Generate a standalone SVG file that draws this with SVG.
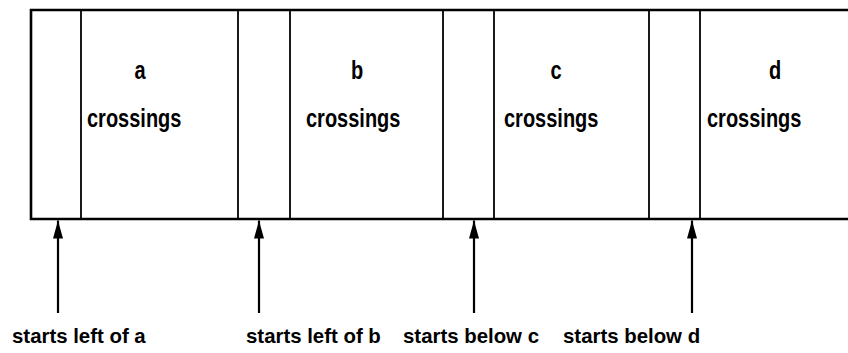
<svg xmlns="http://www.w3.org/2000/svg" width="848" height="353" viewBox="0 0 848 353">
  <style>
    .frame { fill: none; stroke: #000; stroke-width: 2.6; }
    .divider { stroke: #000; stroke-width: 1.8; }
    .lbl { font-family: "Liberation Sans", Arial, Helvetica, sans-serif; font-weight: bold; font-size: 20.4px; fill: #000; }
    .tall { font-size: 20px; }
    .mid { text-anchor: middle; }
    .shaft { stroke: #000; stroke-width: 2.2; fill: none; }
  </style>
  <defs>
    <!-- arrowhead drawn along +x, tip at the line end -->
    <marker id="head" viewBox="0 0 18 10" refX="18" refY="5" markerWidth="18" markerHeight="10" markerUnits="userSpaceOnUse" orient="auto">
      <path d="M18 5 L0 0 L0 10 Z" fill="#000"/>
    </marker>
  </defs>
  <rect width="848" height="353" fill="#fff"/>

  <!-- long strip, open on the right -->
  <g id="strip">
    <path class="frame" d="M852 10 H31 V219 H852"/>
    <line class="divider" x1="81" y1="10" x2="81" y2="219"/>
    <line class="divider" x1="238" y1="10" x2="238" y2="219"/>
    <line class="divider" x1="290" y1="10" x2="290" y2="219"/>
    <line class="divider" x1="443" y1="10" x2="443" y2="219"/>
    <line class="divider" x1="494" y1="10" x2="494" y2="219"/>
    <line class="divider" x1="649" y1="10" x2="649" y2="219"/>
    <line class="divider" x1="700" y1="10" x2="700" y2="219"/>
  </g>

  <g id="region-a">
    <text class="lbl tall mid" transform="translate(140 79) scale(1 1.3)">a</text>
    <text class="lbl tall" transform="translate(87 127) scale(1 1.3)">crossings</text>
  </g>
  <g id="region-b">
    <text class="lbl tall mid" transform="translate(357 79) scale(1 1.3)">b</text>
    <text class="lbl tall" transform="translate(306 127) scale(1 1.3)">crossings</text>
  </g>
  <g id="region-c">
    <text class="lbl tall mid" transform="translate(556 79) scale(1 1.3)">c</text>
    <text class="lbl tall" transform="translate(504 127) scale(1 1.3)">crossings</text>
  </g>
  <g id="region-d">
    <text class="lbl tall mid" transform="translate(775 79) scale(1 1.3)">d</text>
    <text class="lbl tall" transform="translate(707 127) scale(1 1.3)">crossings</text>
  </g>

  <!-- pointers from the start labels up to the strip -->
  <g id="connectors">
    <line class="shaft" x1="58" y1="313" x2="58" y2="220.5" marker-end="url(#head)"/>
    <line class="shaft" x1="259" y1="313" x2="259" y2="220.5" marker-end="url(#head)"/>
    <line class="shaft" x1="474" y1="313" x2="474" y2="220.5" marker-end="url(#head)"/>
    <line class="shaft" x1="692" y1="313" x2="692" y2="220.5" marker-end="url(#head)"/>
  </g>

  <g id="label-a"><text class="lbl" x="12" y="343">starts left of a</text></g>
  <g id="label-b"><text class="lbl" x="246" y="343">starts left of b</text></g>
  <g id="label-c"><text class="lbl" x="403" y="343">starts below c</text></g>
  <g id="label-d"><text class="lbl" x="563" y="343">starts below d</text></g>
</svg>
